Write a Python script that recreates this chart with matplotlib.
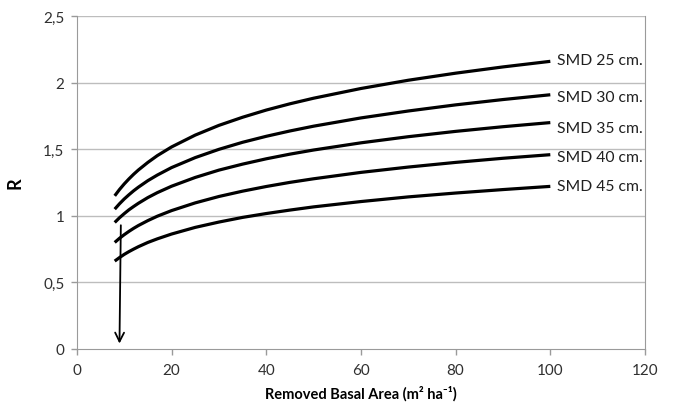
import matplotlib.pyplot as plt

# removed basal area (m2/ha) and R for each SMD class
basal_area = [8, 9, 10, 11, 12, 13, 15, 17, 20, 25, 30, 35, 40, 45, 50, 60, 70, 80, 90, 100]
r_smd25 = [1.150, 1.197, 1.239, 1.277, 1.312, 1.344, 1.401, 1.452, 1.517, 1.606,
           1.679, 1.740, 1.794, 1.841, 1.883, 1.956, 2.018, 2.071, 2.118, 2.160]
r_smd30 = [1.050, 1.090, 1.126, 1.158, 1.188, 1.215, 1.264, 1.306, 1.362, 1.437,
           1.499, 1.552, 1.597, 1.637, 1.673, 1.735, 1.787, 1.833, 1.873, 1.909]
r_smd35 = [0.950, 0.985, 1.016, 1.045, 1.070, 1.094, 1.137, 1.174, 1.222, 1.288,
           1.343, 1.388, 1.428, 1.463, 1.494, 1.548, 1.594, 1.634, 1.669, 1.700]
r_smd40 = [0.800, 0.831, 0.858, 0.883, 0.906, 0.927, 0.964, 0.997, 1.039, 1.097,
           1.145, 1.185, 1.220, 1.251, 1.278, 1.326, 1.366, 1.401, 1.432, 1.459]
r_smd45 = [0.660, 0.686, 0.710, 0.731, 0.750, 0.768, 0.800, 0.827, 0.863, 0.913,
           0.953, 0.988, 1.017, 1.043, 1.067, 1.107, 1.142, 1.171, 1.197, 1.221]
series_labels = ["SMD 25 cm.", "SMD 30 cm.", "SMD 35 cm.", "SMD 40 cm.", "SMD 45 cm."]
label_y = [2.17, 1.89, 1.66, 1.44, 1.225]
x_ticks = [0, 20, 40, 60, 80, 100, 120]
y_ticks = [0, 0.5, 1, 1.5, 2, 2.5]
y_tick_labels = ["0", "0,5", "1", "1,5", "2", "2,5"]

plt.rcParams['font.family'] = ['Lato', 'DejaVu Sans']

fig = plt.figure(figsize=(6.74, 4.06), dpi=100)
ax = fig.add_axes([0.114, 0.138, 0.843, 0.82])

for ys in [0.5, 1, 1.5, 2, 2.5]:
    ax.axhline(ys, color='#bdbdbd', lw=1.0, zorder=0)

for r, lab, ly in zip([r_smd25, r_smd30, r_smd35, r_smd40, r_smd45], series_labels, label_y):
    ax.plot(basal_area, r, color='black', lw=2.3, solid_capstyle='butt', solid_joinstyle='round')
    ax.text(101.5, ly, lab, fontsize=11.3, va='center', ha='left', color='#202020')

# arrow down to x-axis
ax.annotate('', xy=(9.0, 0.02), xytext=(9.3, 0.95),
            arrowprops=dict(arrowstyle='->', color='black', lw=1.3, mutation_scale=16))

ax.set_xlim(0, 120)
ax.set_ylim(0, 2.5)
ax.set_xticks(x_ticks)
ax.set_yticks(y_ticks)
ax.set_yticklabels(y_tick_labels)
ax.tick_params(axis='both', colors='#9a9a9a', labelcolor='#303030', labelsize=11, length=4, width=1)
ax.tick_params(axis='x', pad=6)
ax.tick_params(axis='y', pad=5)
for s in ax.spines.values():
    s.set_color('#9a9a9a')
ax.spines['top'].set_visible(False)

ax.set_xlabel('Removed Basal Area (m² ha⁻¹)', fontsize=10.5, fontweight='bold', labelpad=6)
ax.set_ylabel('R', fontsize=13, fontweight='bold', labelpad=14)

fig.savefig('out.png', dpi=100)
